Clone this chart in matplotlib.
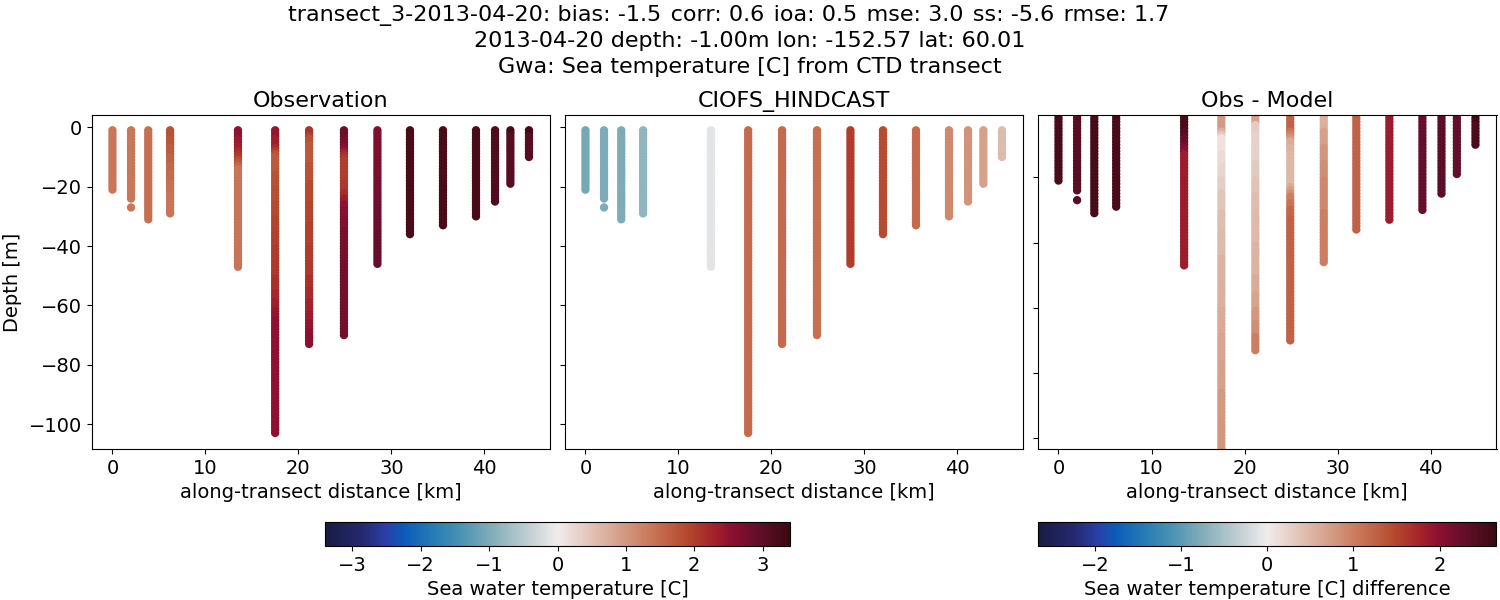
#!/usr/bin/python3

import numpy as np
import matplotlib
matplotlib.use('Agg')
import matplotlib.pyplot as plt
from matplotlib.colors import LinearSegmentedColormap, Normalize

# along-transect distance of each CTD cast [km]
distance = [0.0, 2.0, 3.85, 6.2, 13.5, 17.5, 21.15, 24.9, 28.5, 32.0, 35.55, 39.1, 41.15, 42.8, 44.8]

# each cast is a list of (bottom depth of band [m], value)
obs_temp = [
    [(21, 1.38)],
    [(27, 1.38)],
    [(31, 1.45)],
    [(3, 1.8), (6, 1.74), (9, 1.68), (12, 1.6), (15, 1.54), (18, 1.5), (22, 1.44), (29, 1.4)],
    [(3, 2.5), (5, 2.4), (7, 2.32), (8, 2.22), (9, 2.12), (10, 2.0), (11, 1.85), (12, 1.7), (13, 1.55), (47, 1.4)],
    [(3, 2.45), (6, 2.35), (7, 2.2), (8, 2.0), (9, 1.8), (15, 1.72), (20, 1.78), (25, 1.83), (30, 1.88),
     (35, 1.93), (40, 1.97), (45, 2.02), (50, 2.07), (55, 2.15), (58, 2.25), (61, 2.33), (64, 2.42), (103, 2.52)],
    [(2, 2.1), (3, 1.95), (5, 1.8), (12, 1.7), (18, 1.8), (25, 1.86), (32, 1.92), (40, 1.97), (46, 2.02),
     (50, 2.07), (54, 2.13), (58, 2.2), (62, 2.3), (65, 2.38), (68, 2.45), (73, 2.55)],
    [(3, 2.85), (5, 2.78), (6, 2.7), (7, 2.58), (8, 2.42), (9, 2.25), (10, 2.12), (18, 2.0), (21, 2.06),
     (23, 2.18), (25, 2.36), (27, 2.5), (30, 2.58), (34, 2.65), (45, 2.72), (70, 2.78)],
    [(10, 2.65), (18, 2.7), (25, 2.76), (35, 2.82), (46, 2.87)],
    [(36, 3.25)],
    [(33, 3.25)],
    [(30, 3.25)],
    [(25, 3.15)],
    [(2, 3.25), (19, 3.05)],
    [(2, 3.3), (10, 3.1)],
]
model_temp = [
    [(21, -1.05)],
    [(27, -1.0)],
    [(31, -1.0)],
    [(29, -0.85)],
    [(47, -0.12)],
    [(103, 1.5)],
    [(73, 1.5)],
    [(70, 1.45)],
    [(46, 2.0)],
    [(36, 1.85)],
    [(33, 1.5)],
    [(30, 1.15)],
    [(25, 1.05)],
    [(19, 0.9)],
    [(10, 0.58)],
]
diff_temp = [
    [(21, 2.55)],
    [(27, 2.4)],
    [(31, 2.55)],
    [(29, 2.55)],
    [(5, 2.5), (7, 2.42), (9, 2.3), (10, 2.2), (11, 2.1), (12, 2.0), (47, 1.85)],
    [(5, 0.75), (6, 0.55), (7, 0.35), (12, 0.1), (16, 0.15), (20, 0.22), (24, 0.28), (30, 0.36), (36, 0.42),
     (44, 0.47), (52, 0.52), (60, 0.56), (68, 0.62), (76, 0.66), (85, 0.7), (95, 0.75), (103, 0.78)],
    [(3, 0.7), (6, 0.3), (10, 0.24), (15, 0.27), (20, 0.33), (25, 0.38), (30, 0.42), (40, 0.47), (50, 0.52),
     (55, 0.6), (60, 0.67), (64, 0.77), (68, 0.87), (73, 1.0)],
    [(5, 1.25), (6, 1.1), (7, 0.95), (8, 0.8), (10, 0.62), (12, 0.52), (22, 0.48), (23, 0.6), (24, 0.72), (25, 0.85),
     (27, 1.0), (29, 1.1), (32, 1.2), (70, 1.25)],
    [(5, 0.55), (10, 0.7), (15, 0.8), (20, 0.87), (30, 0.93), (46, 1.0)],
    [(36, 1.25)],
    [(33, 1.85)],
    [(30, 2.25)],
    [(25, 2.35)],
    [(19, 2.3)],
    [(3, 2.6), (10, 2.5)],
]
skipped_depths = {1: [25, 26]}

balance_colors = ['#181c43', '#252a70', '#2a3fa8', '#0a5dba', '#2b7fb4', '#4892b3',
                  '#84aeb9', '#c3d0d4', '#f1ecec', '#ddb9a9', '#c9785a', '#b5482c',
                  '#a3202b', '#8c0f30', '#640f2a', '#3c0912']
balance_stops = [0.0, 0.08, 0.13, 0.17, 0.24, 0.29, 0.36, 0.44, 0.5, 0.59, 0.7, 0.78,
                 0.84, 0.875, 0.93, 1.0]
balance = LinearSegmentedColormap.from_list('balance', list(zip(balance_stops, balance_colors)))

plt.rcParams['font.size'] = 14

temp_norm = Normalize(-3.4, 3.4)
diff_norm = Normalize(-2.66, 2.66)


def draw_casts(ax, profiles, norm):
    for i, bands in enumerate(profiles):
        top = 1
        depths = []
        values = []
        for bottom, value in bands:
            for d in range(top, bottom + 1):
                if d not in skipped_depths.get(i, []):
                    depths.append(-d)
                    values.append(value)
            top = bottom + 1
        sc = ax.scatter(np.full(len(depths), distance[i]), depths, c=values, s=36,
                        cmap=balance, norm=norm, linewidths=0)
    ax.set_xlim(-2.2, 47.06)
    ax.set_xticks([0, 10, 20, 30, 40])
    ax.set_xlabel('along-transect distance [km]', labelpad=4)
    return sc


fig = plt.figure(figsize=(15, 6), dpi=100)
ax1 = fig.add_axes([92 / 1500, 1 - 449 / 600, 458 / 1500, 334 / 600])
ax2 = fig.add_axes([565 / 1500, 1 - 449 / 600, 458 / 1500, 334 / 600])
ax3 = fig.add_axes([1038 / 1500, 1 - 449 / 600, 458.5 / 1500, 334 / 600])

sc1 = draw_casts(ax1, obs_temp, temp_norm)
draw_casts(ax2, model_temp, temp_norm)
sc3 = draw_casts(ax3, diff_temp, diff_norm)

ax1.set_ylim(-108.4, 4.15)
ax2.set_ylim(-108.4, 4.15)
ax3.set_ylim(-103.3, -0.9)
ax1.set_yticks([-100, -80, -60, -40, -20, 0])
ax2.set_yticks([-100, -80, -60, -40, -20, 0])
ax3.set_yticks([-100, -80, -60, -40, -20])
ax2.set_yticklabels([])
ax3.set_yticklabels([])
ax1.set_ylabel('Depth [m]', labelpad=5)

ax1.set_title('Observation', fontsize=16, pad=6)
ax2.set_title('CIOFS_HINDCAST', fontsize=16, pad=6)
ax3.set_title('Obs - Model', fontsize=16, pad=6)

# first line sits left of the other two in the reference
fig.text(0.486, 1 - 15 / 600, 'transect_3-2013-04-20: bias: -1.5\u200a corr: 0.6\u200a ioa: 0.5\u200a mse: 3.0\u200a ss: -5.6\u200a rmse: 1.7',
         fontsize=16, ha='center', va='center')
fig.text(0.4997, 1 - 41 / 600, '2013-04-20 depth: -1.00m lon: -152.57 lat: 60.01',
         fontsize=16, ha='center', va='center')
fig.text(0.4997, 1 - 67 / 600, 'Gwa: Sea temperature [C] from CTD transect',
         fontsize=16, ha='center', va='center')

cax1 = fig.add_axes([325 / 1500, 1 - 546 / 600, 465 / 1500, 24 / 600])
cax3 = fig.add_axes([1038 / 1500, 1 - 546 / 600, 458.5 / 1500, 24 / 600])
fig.colorbar(sc1, cax=cax1, orientation='horizontal', label='Sea water temperature [C]')
fig.colorbar(sc3, cax=cax3, orientation='horizontal', label='Sea water temperature [C] difference')

fig.savefig('out.png', dpi=100)
